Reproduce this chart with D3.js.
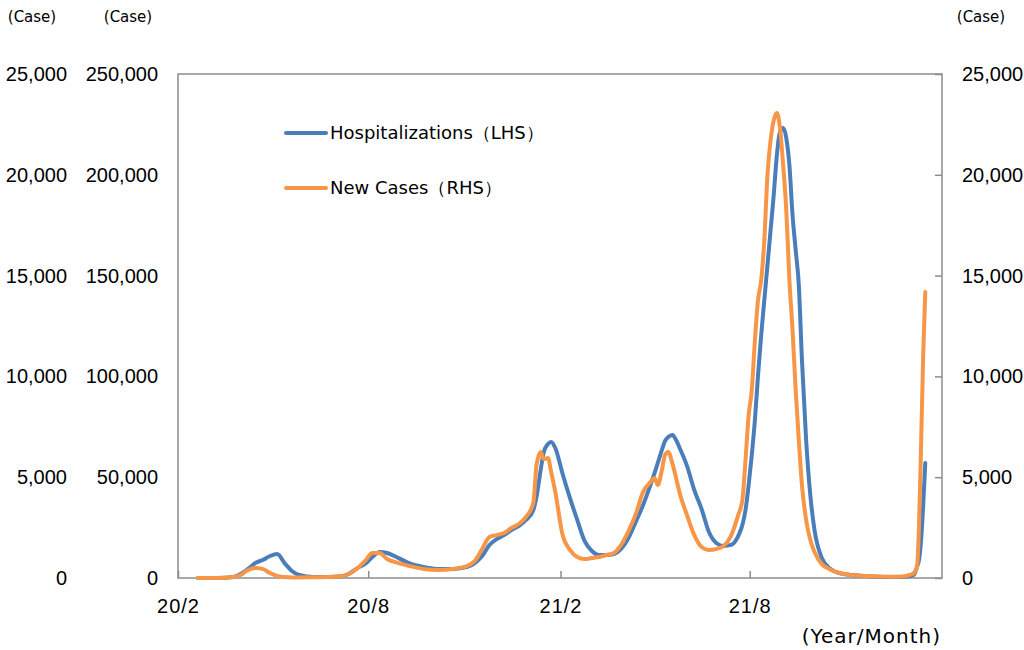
<!DOCTYPE html>
<html>
<head>
<meta charset="utf-8">
<script src="https://cdn.jsdelivr.net/npm/d3@7"></script>
<style>
  html, body { margin: 0; padding: 0; background: #fff; }
  svg { display: block; font-family: "DejaVu Sans", Verdana, sans-serif; }
</style>
</head>
<body>
<svg id="chart" width="1024" height="650"></svg>
<script>
const dates = [
  "2020-02-20","2020-03-10","2020-03-25","2020-04-01","2020-04-08","2020-04-15","2020-04-22","2020-04-29",
  "2020-05-06","2020-05-13","2020-05-20","2020-05-27","2020-06-10","2020-06-24","2020-07-08","2020-07-15",
  "2020-07-22","2020-07-29","2020-08-05","2020-08-12","2020-08-19","2020-08-26","2020-09-09","2020-09-23",
  "2020-10-07","2020-10-21","2020-11-04","2020-11-11","2020-11-18","2020-11-25","2020-12-02","2020-12-09",
  "2020-12-16","2020-12-23","2020-12-30","2021-01-06","2021-01-09","2021-01-13","2021-01-16","2021-01-20",
  "2021-01-23","2021-01-27","2021-02-03","2021-02-10","2021-02-17","2021-02-24","2021-03-03","2021-03-10",
  "2021-03-17","2021-03-24","2021-03-31","2021-04-07","2021-04-14","2021-04-21","2021-04-28","2021-05-02",
  "2021-05-05","2021-05-09","2021-05-12","2021-05-15","2021-05-19","2021-05-23","2021-05-26","2021-06-02",
  "2021-06-09","2021-06-16","2021-06-23","2021-06-30","2021-07-07","2021-07-14","2021-07-21","2021-07-25",
  "2021-07-28","2021-07-31","2021-08-03","2021-08-06","2021-08-09","2021-08-12","2021-08-15","2021-08-18",
  "2021-08-21","2021-08-24","2021-08-27","2021-08-30","2021-09-02","2021-09-05","2021-09-08","2021-09-11",
  "2021-09-14","2021-09-17","2021-09-20","2021-09-24","2021-09-28","2021-10-02","2021-10-09","2021-10-16",
  "2021-10-30","2021-11-20","2021-12-11","2021-12-25","2022-01-01","2022-01-05","2022-01-08","2022-01-10",
  "2022-01-12","2022-01-14","2022-01-16"
];

const hospitalizations = [
  0,0,500,2000,4500,7400,8900,10900,
  11900,7400,3500,1500,500,500,1000,2500,
  5000,7000,10400,12900,12400,10900,7400,5500,
  4500,4500,5500,7400,10900,16400,19300,21300,
  23800,25800,28800,33700,40200,53600,62500,66500,
  67500,64500,51600,39700,28800,18400,13400,11400,
  11400,11900,14400,19800,27800,36200,46100,52100,
  57000,63500,68000,69900,70900,68000,64500,55600,
  43600,34200,22800,17400,15900,16400,20800,26300,
  33700,46100,61000,78400,100700,120500,137900,155200,
  172600,190000,209800,221200,223200,218200,204800,180000,
  162700,145300,108100,68400,41200,23800,9900,5000,
  2000,1000,500,500,1000,1500,5500,8900,
  18800,36200,57000
];

const newCases = [
  0,0,50,150,400,500,450,250,
  100,50,30,30,40,50,100,250,
  500,850,1240,1240,940,800,600,450,
  400,450,600,850,1440,2030,2130,2230,
  2480,2680,3030,3720,5600,6250,5900,5950,
  5260,4270,2130,1390,1040,940,990,1040,
  1140,1240,1640,2330,3170,4270,4760,4960,
  4610,5360,6100,6250,5700,4860,4220,3120,
  2130,1540,1390,1440,1590,2080,3120,3870,
  5850,8080,9320,11800,13800,14780,16760,19990,
  21720,22700,23060,22320,20480,18250,14780,12300,
  9320,6840,4610,2880,1880,1290,690,450,
  200,100,60,70,150,250,500,2600,
  6600,11060,14190
];

const xTickDates = ["2020-02-01","2020-08-01","2021-02-01","2021-08-01"];
const xTickLabels = ["20/2","20/8","21/2","21/8"];
const leftTicks = [0,50000,100000,150000,200000,250000];
const rightTicks = [0,5000,10000,15000,20000,25000];
const seriesNames = ["Hospitalizations（LHS）","New Cases（RHS）"];
const unitLabel = "(Case)";
const xAxisTitle = "(Year/Month)";

const parse = d3.timeParse("%Y-%m-%d");
const svg = d3.select("#chart");

const L = 178, R = 942, T = 74, B = 578;
const x = d3.scaleTime().domain([parse("2020-02-01"), parse("2022-02-01")]).range([L, R]);
const yL = d3.scaleLinear().domain([0, 250000]).range([B, T]);
const yR = d3.scaleLinear().domain([0, 25000]).range([B, T]);

const axisColor = "#8c8c8c";
const blue = "#4a7ebb";
const orange = "#f79646";
const fmt = d3.format(",");
const numSize = 20;

// plot frame
svg.append("rect").attr("x", L).attr("y", T).attr("width", R - L).attr("height", B - T)
  .attr("fill", "none").attr("stroke", axisColor).attr("stroke-width", 1.5);

// bottom axis ticks (inward)
const xAxis = d3.axisBottom(x).tickValues(xTickDates.map(parse)).tickSize(-7)
  .tickFormat((d, i) => xTickLabels[i]).tickPadding(21);
const gx = svg.append("g").attr("transform", `translate(0,${B})`).call(xAxis);
gx.select(".domain").remove();
gx.selectAll(".tick line").attr("stroke", axisColor).attr("stroke-width", 1.5);
gx.selectAll(".tick text").attr("font-size", numSize).attr("letter-spacing", 1)
  .attr("fill", "#000").attr("dy", "0.71em");

// right axis ticks (inward) + labels
const rAxis = d3.axisRight(yR).tickValues(rightTicks).tickSize(0).tickFormat(fmt).tickPadding(20);
const gr = svg.append("g").attr("transform", `translate(${R},0)`).call(rAxis);
gr.select(".domain").remove();
gr.selectAll(".tick text").attr("font-size", numSize).attr("fill", "#000");
gr.selectAll(".tick").append("line").attr("x1", 0).attr("x2", -7)
  .attr("stroke", axisColor).attr("stroke-width", 1.5);

// left (hospitalizations) axis labels
const lAxis = d3.axisLeft(yL).tickValues(leftTicks).tickSize(0).tickFormat(fmt).tickPadding(20);
const gl = svg.append("g").attr("transform", `translate(${L},0)`).call(lAxis);
gl.select(".domain").remove();
gl.selectAll(".tick text").attr("font-size", numSize).attr("fill", "#000");

// far-left duplicate new-case scale labels
const llAxis = d3.axisLeft(yR).tickValues(rightTicks).tickSize(0).tickFormat(fmt).tickPadding(0);
const gll = svg.append("g").attr("transform", `translate(67,0)`).call(llAxis);
gll.select(".domain").remove();
gll.selectAll(".tick text").attr("font-size", numSize).attr("fill", "#000");

// unit labels
[[32, unitLabel], [128, unitLabel], [981, unitLabel]].forEach(([cx, t]) => {
  svg.append("text").attr("x", cx).attr("y", 17).attr("text-anchor", "middle")
    .attr("dominant-baseline", "middle").attr("font-size", 15).text(t);
});

// x axis title
svg.append("text").attr("x", 941).attr("y", 637).attr("text-anchor", "end")
  .attr("dominant-baseline", "middle").attr("font-size", 20).attr("letter-spacing", 1).text(xAxisTitle);

// lines
const pts = dates.map((d, i) => ({ d: parse(d), h: hospitalizations[i], c: newCases[i] }));
const lineH = d3.line().x(p => x(p.d)).y(p => yL(p.h)).curve(d3.curveMonotoneX);
const lineC = d3.line().x(p => x(p.d)).y(p => yR(p.c)).curve(d3.curveMonotoneX);

svg.append("path").datum(pts).attr("d", lineH).attr("fill", "none")
  .attr("stroke", blue).attr("stroke-width", 4).attr("stroke-linejoin", "round").attr("stroke-linecap", "round");
svg.append("path").datum(pts).attr("d", lineC).attr("fill", "none")
  .attr("stroke", orange).attr("stroke-width", 4).attr("stroke-linejoin", "round").attr("stroke-linecap", "round");

// legend
[[134, blue, seriesNames[0]], [189, orange, seriesNames[1]]].forEach(([ly, col, t]) => {
  svg.append("line").attr("x1", 286).attr("x2", 326).attr("y1", ly - 1).attr("y2", ly - 1)
    .attr("stroke", col).attr("stroke-width", 4).attr("stroke-linecap", "round");
  svg.append("text").attr("x", 330).attr("y", ly).attr("dominant-baseline", "middle")
    .attr("font-size", 18).text(t);
});
</script>
</body>
</html>
